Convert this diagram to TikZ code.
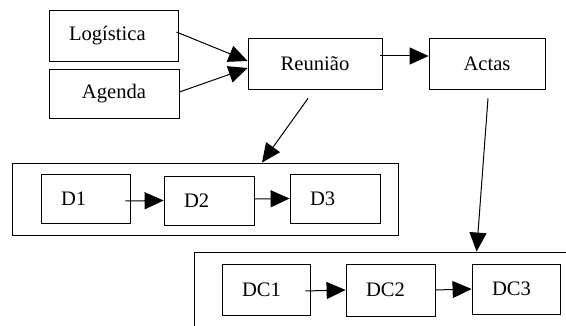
\documentclass[tikz,border=0pt]{standalone}
\usepackage{fontspec}
\setmainfont{Liberation Serif}
\usepackage{tikz}
\usetikzlibrary{arrows.meta,calc}

\tikzset{
	box/.style={draw, line width=0.8pt, inner sep=0pt, minimum height=50pt, align=center},
	lbox/.style={box, align=left, inner xsep=20pt, text width=#1},
	grp/.style={draw, line width=0.8pt, inner sep=0pt},
	arr/.style={line width=1pt, -{Triangle[length=19pt,width=17pt]}}
}

\begin{document}
\begin{tikzpicture}[x=1pt, y=-1pt, font=\fontsize{20.6}{24}\selectfont]
		\useasboundingbox (0,0) rectangle (566,326);
		\clip (0,0) rectangle (566,326);

		\node (Dg) [grp, minimum width=386pt, minimum height=72pt] at (205,199) {};
		\node (DCg) [grp, minimum width=400pt, minimum height=100pt] at (394,302) {};

		\node (Log) [lbox=89pt, minimum height=51pt] at (113.5,35.5) {Logística};
		\node (Ag) [box, minimum width=130pt, minimum height=49pt] at (114,93.5) {Agenda};
		\node (R) [box, minimum width=134pt, minimum height=51pt] at (315,63.5) {Reunião};
		\node (Ac) [box, minimum width=116pt, minimum height=51pt] at (487,63.5) {Actas};

		\node (D1) [lbox=49pt, minimum height=49pt] at (85.5,198.5) {D1};
		\node (D2) [lbox=50pt, minimum height=49pt] at (209,200.5) {D2};
		\node (D3) [lbox=50pt, minimum height=49pt] at (335,198.5) {D3};

		\node (DC1) [lbox=48pt, minimum height=51pt] at (266,289.5) {DC1};
		\node (DC2) [lbox=49pt, minimum height=52pt] at (390.5,290) {DC2};
		\node (DC3) [lbox=48pt, minimum height=50pt] at (516,289) {DC3};

		\draw [arr] ([xshift=-2pt,yshift=3.5pt]Log.east) -- ([yshift=2.5pt]R.west);
		\draw [arr] ([yshift=1.5pt]Ag.east) -- ([yshift=-4.5pt]R.west);
		\draw [arr] ([xshift=-2pt,yshift=7.5pt]R.east) -- ([yshift=7.5pt]Ac.west);

		\draw [arr] ([xshift=-7pt,yshift=-9pt]R.south) -- ([xshift=57pt]Dg.north);
		\draw [arr] ([xshift=1pt,yshift=-9pt]Ac.south) -- ([xshift=283pt]DCg.north west);

		\draw [arr] ([xshift=-5pt,yshift=-2.5pt]D1.east) -- (D2.west);
		\draw [arr] ([yshift=1.5pt]D2.east) -- (D3.west);

		\draw [arr] ([xshift=-5pt,yshift=-1.5pt]DC1.east) -- (DC2.west);
		\draw [arr] (DC2.east) -- (DC3.west);
	\end{tikzpicture}
\end{document}
